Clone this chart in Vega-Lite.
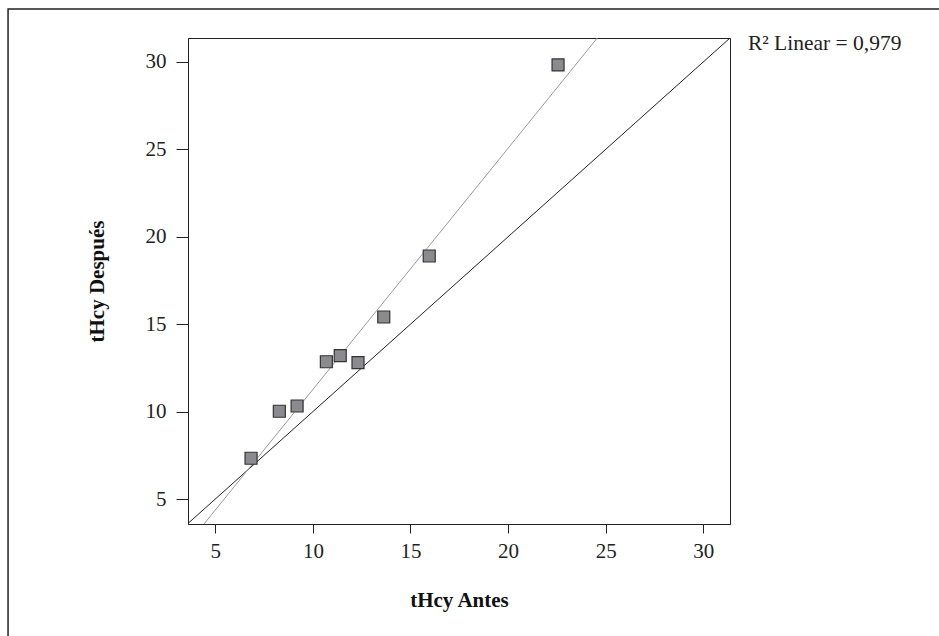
{
  "$schema": "https://vega.github.io/schema/vega-lite/v6.json",
  "autosize": "none",
  "width": 542,
  "height": 486,
  "padding": {"left": 188, "top": 38, "right": 209, "bottom": 112},
  "background": "white",
  "config": {
    "view": {"stroke": "#222", "strokeWidth": 1},
    "font": "Liberation Serif",
    "axis": {
      "labelFont": "Liberation Serif",
      "titleFont": "Liberation Serif",
      "labelFontSize": 21,
      "titleFontSize": 21,
      "titleFontWeight": "bold",
      "labelColor": "#222",
      "titleColor": "#111",
      "domainColor": "#222",
      "tickColor": "#222",
      "grid": false
    }
  },
  "datasets": {
    "pts": [
      {"antes": 6.83, "despues": 7.33},
      {"antes": 8.28, "despues": 10.02},
      {"antes": 9.19, "despues": 10.32},
      {"antes": 10.69, "despues": 12.85},
      {"antes": 11.40, "despues": 13.2},
      {"antes": 12.31, "despues": 12.80},
      {"antes": 13.63, "despues": 15.41},
      {"antes": 15.96, "despues": 18.9},
      {"antes": 22.56, "despues": 29.83}
    ],
    "fit": [
      {"antes": 4.42, "despues": 3.57},
      {"antes": 24.57, "despues": 31.37}
    ],
    "diag": [
      {"antes": 3.6, "despues": 3.6},
      {"antes": 31.37, "despues": 31.37}
    ],
    "note": [
      {"label": "R² Linear = 0,979"}
    ]
  },
  "layer": [
    {
      "data": {"name": "note"},
      "mark": {"type": "rect", "fill": null, "stroke": "#222", "strokeWidth": 1.5, "clip": false},
      "encoding": {
        "x": {"datum": -5.62, "type": "quantitative", "scale": {"domain": [3.6, 31.37], "nice": false, "zero": false}},
        "x2": {"datum": 42.5},
        "y": {"datum": 33.03, "type": "quantitative", "scale": {"domain": [3.57, 31.37], "nice": false, "zero": false}},
        "y2": {"datum": -3.2}
      }
    },
    {
      "data": {"name": "diag"},
      "mark": {"type": "line", "color": "#222", "strokeWidth": 1},
      "encoding": {
        "x": {"field": "antes", "type": "quantitative"},
        "y": {"field": "despues", "type": "quantitative"}
      }
    },
    {
      "data": {"name": "fit"},
      "mark": {"type": "line", "color": "#999", "strokeWidth": 1},
      "encoding": {
        "x": {"field": "antes", "type": "quantitative"},
        "y": {"field": "despues", "type": "quantitative"}
      }
    },
    {
      "data": {"name": "pts"},
      "mark": {"type": "point", "shape": "square", "filled": true, "size": 144, "fill": "#8b8b8f", "stroke": "#333", "strokeWidth": 1.2, "opacity": 1},
      "encoding": {
        "x": {
          "field": "antes", "type": "quantitative",
          "axis": {"title": "tHcy Antes", "values": [5, 10, 15, 20, 25, 30], "tickSize": 9, "labelPadding": 7, "titlePadding": 28}
        },
        "y": {
          "field": "despues", "type": "quantitative",
          "axis": {"title": "tHcy Después", "values": [5, 10, 15, 20, 25, 30], "tickSize": 12, "labelPadding": 10, "titlePadding": 38}
        }
      }
    },
    {
      "data": {"name": "note"},
      "mark": {"type": "text", "align": "left", "baseline": "middle", "fontSize": 21.5, "font": "Liberation Serif", "color": "#222", "clip": false},
      "encoding": {
        "x": {"datum": 32.29, "type": "quantitative"},
        "y": {"datum": 31.03, "type": "quantitative"},
        "text": {"field": "label"}
      }
    }
  ]
}
